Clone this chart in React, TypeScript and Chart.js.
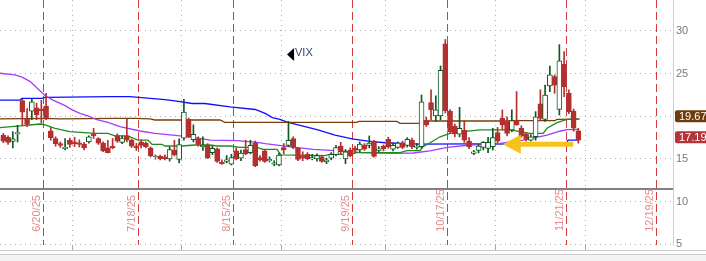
import React, { useEffect, useRef } from 'react';
import { Chart, registerables } from 'chart.js';

Chart.register(...registerables);

const FONT = "'Liberation Sans', Arial, sans-serif";

// One slot per trading day; candle i sits on slot i.
const OPEN = [
  17.8, 17.55, 17.05, 17.95, 21.85, 19.65, 20.6, 21.0, 20.85, 21.2,
  18.3, 17.4, 16.8, 16.2, 17.2, 17.0, 16.9, 16.75, 17.0, 17.9,
  17.4, 16.85, 16.3, 16.5, 17.75, 16.95, 17.7, 17.2, 16.5, 17.0,
  16.85, 16.3, 15.25, 15.3, 15.25, 15.0, 16.05, 14.95, 17.45, 19.65,
  17.25, 17.4, 16.45, 16.6, 15.75, 16.2, 14.65, 14.7, 14.4, 15.95,
  15.1, 16.1, 15.75, 16.85, 15.15, 15.95, 14.8, 14.4, 14.3, 16.35,
  16.6, 17.4, 16.25, 15.35, 15.55, 15.0, 15.0, 15.25, 14.65, 15.1,
  15.5, 16.5, 15.0, 16.05, 16.25, 16.05, 16.6, 16.6, 17.1, 16.0,
  16.5, 17.3, 16.15, 16.35, 16.85, 16.6, 17.2, 16.35, 16.45, 19.55,
  21.6, 20.05, 20.05, 28.5, 20.6, 18.85, 17.9, 18.35, 17.1, 15.65,
  16.0, 16.35, 16.25, 16.45, 18.1, 19.75, 19.35, 18.4, 19.55, 18.6,
  17.95, 17.2, 17.6, 21.45, 19.65, 23.55, 24.65, 20.8, 26.1, 22.7,
  20.6, 18.3,
];
const HIGH = [
  18.0, 17.7, 18.2, 18.95, 22.0, 20.9, 22.0, 21.55, 21.9, 22.7,
  18.7, 17.6, 17.0, 17.4, 17.45, 17.55, 17.25, 16.95, 17.7, 18.6,
  17.5, 17.0, 17.2, 17.4, 17.95, 17.7, 19.65, 17.35, 16.85, 17.25,
  17.0, 16.4, 15.5, 15.45, 15.5, 16.4, 17.2, 17.35, 22.0, 19.8,
  19.0, 17.6, 17.6, 16.8, 16.5, 16.3, 14.9, 15.4, 15.55, 16.3,
  16.05, 17.2, 17.2, 17.1, 15.4, 16.1, 15.25, 14.8, 15.7, 16.8,
  19.4, 17.6, 16.35, 15.85, 15.75, 15.55, 15.6, 15.45, 15.1, 15.75,
  16.6, 16.95, 16.1, 16.3, 16.5, 17.0, 16.8, 17.7, 17.2, 16.45,
  16.65, 17.55, 16.85, 17.0, 17.1, 17.5, 17.45, 16.8, 22.5, 19.9,
  23.1, 22.4, 25.9, 29.0, 20.8, 19.1, 21.05, 19.45, 17.5, 16.0,
  16.7, 17.05, 17.55, 18.6, 18.7, 20.75, 19.95, 20.75, 22.9, 18.9,
  18.1, 17.85, 20.55, 23.1, 23.65, 25.9, 24.85, 28.4, 27.6, 23.1,
  20.85, 18.6,
];
const LOW = [
  16.9, 16.7, 16.3, 17.0, 19.0, 18.8, 19.6, 19.6, 19.2, 19.6,
  17.2, 16.5, 16.35, 16.05, 16.35, 16.45, 16.4, 16.05, 16.85, 17.4,
  16.7, 15.85, 15.7, 16.2, 16.95, 16.8, 17.0, 16.35, 16.0, 16.3,
  16.3, 15.25, 14.95, 14.9, 14.9, 14.75, 15.35, 14.55, 17.2, 17.5,
  17.0, 16.5, 16.0, 15.05, 15.5, 14.6, 14.35, 14.55, 14.3, 14.9,
  14.8, 15.5, 15.6, 14.1, 14.75, 14.6, 14.65, 14.2, 14.2, 15.6,
  16.45, 16.2, 14.8, 14.8, 14.9, 14.9, 14.75, 14.6, 14.45, 14.9,
  15.35, 15.5, 14.45, 15.25, 15.7, 15.85, 16.0, 16.3, 15.2, 15.8,
  15.95, 16.25, 15.95, 16.25, 16.2, 16.4, 16.2, 16.15, 16.25, 18.8,
  19.6, 19.4, 19.6, 20.4, 18.0, 17.6, 17.6, 16.95, 16.2, 15.5,
  15.7, 16.05, 15.75, 16.05, 16.9, 18.4, 17.7, 18.2, 18.95, 17.55,
  17.1, 17.1, 17.2, 19.55, 19.4, 22.9, 22.7, 20.15, 22.3, 20.3,
  18.25, 16.85,
];
const CLOSE = [
  17.1, 16.95, 17.35, 18.1, 20.5, 19.05, 21.7, 20.15, 20.65, 19.75,
  17.5, 16.8, 16.6, 16.4, 16.7, 16.8, 16.7, 16.3, 17.6, 17.7,
  16.85, 15.95, 15.75, 16.3, 17.1, 17.45, 17.2, 16.5, 16.3, 16.6,
  16.45, 15.35, 15.25, 15.0, 15.05, 16.1, 15.5, 16.7, 20.5, 17.6,
  17.9, 16.7, 16.6, 15.15, 16.25, 14.7, 14.45, 14.9, 15.15, 15.0,
  15.7, 15.6, 16.6, 14.2, 14.9, 14.7, 14.95, 14.55, 15.45, 16.05,
  17.2, 16.35, 14.95, 15.1, 15.0, 15.15, 15.4, 14.7, 14.9, 15.55,
  16.35, 15.85, 15.85, 15.35, 16.0, 16.75, 16.15, 16.85, 15.3, 16.2,
  16.2, 16.4, 16.6, 16.85, 16.35, 17.3, 16.4, 16.5, 21.7, 19.0,
  20.75, 20.75, 25.4, 20.65, 18.2, 17.95, 18.6, 17.2, 16.4, 15.85,
  16.5, 16.95, 16.95, 17.5, 17.1, 19.0, 18.0, 19.5, 19.0, 17.7,
  17.3, 17.6, 19.95, 19.75, 22.5, 24.85, 23.65, 26.5, 23.45, 20.55,
  18.6, 17.19,
];

// Moving averages, read at slot positions
const BLUE_X = [-0.7, 3.5, 3.9, 8.1, 8.8, 22.4, 26.7, 30.9, 34.0, 36.1, 39.7, 42.4, 47.7, 53.0, 55.1, 56.6, 58.2, 59.9, 63.5, 66.2, 69.8, 73.4, 76.7, 80.3, 87.7, 98.2, 118.4, 118.8, 121.1];
const BLUE_Y = [21.9, 21.9, 22.1, 22.1, 22.23, 22.3, 22.3, 22.1, 21.95, 21.8, 21.5, 21.5, 21.1, 20.8, 20.35, 19.85, 19.65, 19.3, 18.8, 18.4, 17.8, 17.35, 17.1, 16.9, 16.75, 16.78, 16.72, 17.2, 17.2];

const BROWN_X = [-0.7, 8.8, 11.9, 23.5, 27.7, 30.9, 31.9, 45.6, 46.6, 74.4, 74.8, 82.8, 83.5, 88.3, 89.1, 107.2, 107.6, 116.1, 116.5, 121.1];
const BROWN_Y = [19.69, 19.77, 19.69, 19.77, 19.77, 19.69, 19.57, 19.57, 19.3, 19.3, 19.4, 19.4, 19.18, 19.18, 19.45, 19.45, 19.5, 19.5, 19.65, 19.67];

const PURPLE_X = [-0.7, 2.46, 3.93, 5.6, 6.67, 7.7, 8.8, 10.46, 13.0, 14.5, 16.14, 17.8, 19.7, 22.0, 24.55, 28.76, 31.9, 39.3, 43.5, 49.2, 53.4, 55.1, 59.3, 65.2, 69.8, 75.7, 81.4, 86.2, 89.8, 93.4, 98.2, 104.5, 109.4, 114.4, 117.1, 118.6, 121.1];
const PURPLE_Y = [25.05, 24.85, 24.6, 24.1, 23.55, 23.0, 22.4, 21.9, 21.25, 20.75, 20.35, 20.04, 19.6, 19.3, 18.8, 18.28, 18.0, 17.6, 17.22, 17.15, 16.95, 16.8, 16.5, 16.13, 15.97, 15.75, 15.65, 15.7, 15.95, 16.35, 16.64, 16.83, 17.2, 17.8, 18.25, 18.45, 18.48];

const GREEN_X = [-0.7, 3.5, 5.6, 7.7, 8.8, 10.9, 14.0, 19.3, 22.0, 23.5, 26.2, 28.3, 30.4, 31.3, 33.4, 34.0, 37.6, 40.3, 43.5, 45.0, 47.7, 49.8, 53.4, 54.6, 57.6, 58.4, 67.7, 68.7, 73.4, 74.2, 83.5, 84.9, 87.7, 88.3, 89.8, 91.9, 94.0, 96.7, 100.3, 106.6, 110.8, 113.6, 114.4, 116.5, 118.6, 121.3];
const GREEN_Y = [18.67, 18.87, 18.98, 19.1, 19.0, 18.6, 18.2, 18.0, 18.0, 17.7, 17.7, 17.22, 17.22, 16.72, 16.72, 16.52, 16.52, 16.64, 16.64, 16.52, 16.52, 16.36, 16.36, 16.13, 16.13, 15.47, 15.4, 15.55, 15.55, 15.74, 15.74, 15.97, 15.97, 16.44, 16.9, 17.6, 18.0, 18.2, 18.4, 18.4, 18.0, 18.0, 18.6, 19.26, 19.65, 19.7];

// Axes
const DATE_TICKS = [8.5, 28.5, 48.5, 73.5, 93.5, 118.5, 137.5];
const DATE_LABELS = ['6/20/25', '7/18/25', '8/15/25', '9/19/25', '10/17/25', '11/21/25', '12/19/25'];
const MONTH_TICKS = [14.5, 37.5, 58.5, 80.5, 103.5, 122.5];
const PRICE_TICKS = [5, 10, 15, 20, 25, 30];

const X_MIN = -0.695;
const X_MAX = 140.91;
const Y_MIN = 4.92;
const Y_MAX = 33.63;
const DATE_AXIS_VALUE = 11.48;

const SYMBOL_LABEL = 'VIX';
const SYMBOL_SLOT = 59.7;
const SYMBOL_VALUE = 27.25;

const ARROW_FROM_SLOT = 119.9;
const ARROW_TO_SLOT = 105.1;
const ARROW_VALUE = 16.72;

const RED = '#b3302f';
const GREEN = '#0b5a1f';
const GRAY = '#777777';

const overlay = {
  id: 'overlay',
  afterDatasetsDraw(chart: any) {
    const { ctx } = chart;
    const x = chart.scales.x;
    const y = chart.scales.y;
    ctx.save();
    // yellow arrow
    const ya = y.getPixelForValue(ARROW_VALUE);
    const xTail = x.getPixelForValue(ARROW_FROM_SLOT);
    const xTip = x.getPixelForValue(ARROW_TO_SLOT);
    const headLen = 18;
    const headHalf = 9.5;
    const shaftHalf = 2.5;
    ctx.fillStyle = '#f7c21b';
    ctx.beginPath();
    ctx.moveTo(xTip, ya);
    ctx.lineTo(xTip + headLen, ya - headHalf);
    ctx.lineTo(xTip + headLen, ya - shaftHalf);
    ctx.lineTo(xTail, ya - shaftHalf);
    ctx.lineTo(xTail, ya + shaftHalf);
    ctx.lineTo(xTip + headLen, ya + shaftHalf);
    ctx.lineTo(xTip + headLen, ya + headHalf);
    ctx.closePath();
    ctx.fill();
    // symbol label
    const sx = x.getPixelForValue(SYMBOL_SLOT);
    const sy = y.getPixelForValue(SYMBOL_VALUE);
    ctx.fillStyle = '#000000';
    ctx.beginPath();
    ctx.moveTo(sx, sy);
    ctx.lineTo(sx + 7, sy - 6.5);
    ctx.lineTo(sx + 7, sy + 6.5);
    ctx.closePath();
    ctx.fill();
    ctx.font = `11px ${FONT}`;
    ctx.textAlign = 'left';
    ctx.textBaseline = 'middle';
    ctx.fillStyle = '#34476b';
    ctx.fillText(SYMBOL_LABEL, sx + 8, sy - 1);
    ctx.restore();
  },
  afterDraw(chart: any) {
    const { ctx } = chart;
    const y = chart.scales.y;
    const tag = (value: number, bg: string) => {
      const py = y.getPixelForValue(value) - 3;
      const left = y.left + 2;
      const w = chart.width - left + 4;
      const h = 12;
      const top = py - h / 2;
      const r = 2;
      ctx.save();
      ctx.fillStyle = bg;
      ctx.beginPath();
      ctx.moveTo(left + r, top);
      ctx.lineTo(left + w, top);
      ctx.lineTo(left + w, top + h);
      ctx.lineTo(left + r, top + h);
      ctx.quadraticCurveTo(left, top + h, left, top + h - r);
      ctx.lineTo(left, top + r);
      ctx.quadraticCurveTo(left, top, left + r, top);
      ctx.closePath();
      ctx.fill();
      ctx.fillStyle = '#ffffff';
      ctx.font = `11px ${FONT}`;
      ctx.textAlign = 'left';
      ctx.textBaseline = 'middle';
      ctx.fillText(value.toFixed(2), left + 4, py + 0.5);
      ctx.restore();
    };
    tag(BROWN_Y[BROWN_Y.length - 1], '#6e3b0e');
    tag(CLOSE[CLOSE.length - 1], '#b5343a');
  },
};

export default function App() {
  const ref = useRef<HTMLCanvasElement>(null);

  useEffect(() => {
    document.body.style.margin = '0';
    const canvas = ref.current;
    if (!canvas) return;
    const idx = OPEN.map((_, i) => i);
    const colorOf = (i: number) => (CLOSE[i] > OPEN[i] ? GREEN : CLOSE[i] < OPEN[i] ? RED : GRAY);
    const fillOf = (i: number) => (CLOSE[i] > OPEN[i] ? '#ffffff' : CLOSE[i] < OPEN[i] ? RED : GRAY);
    const bodies = idx.map((i) => ({ x: i, y: [Math.min(OPEN[i], CLOSE[i]), Math.max(OPEN[i], CLOSE[i])] }));
    const wicks = idx.map((i) => ({ x: i, y: [LOW[i], HIGH[i]] }));
    const pts = (xs: number[], ys: number[]) => xs.map((v, k) => ({ x: v, y: ys[k] }));
    const lineDs = (xs: number[], ys: number[], color: string, order: number) => ({
      type: 'line' as const,
      data: pts(xs, ys),
      borderColor: color,
      borderWidth: 1.3,
      pointRadius: 0,
      tension: 0,
      fill: false,
      order,
      xAxisID: 'x',
      yAxisID: 'y',
    });

    const chart = new Chart(canvas, {
      type: 'bar',
      data: {
        datasets: [
          {
            type: 'bar',
            data: bodies as any,
            backgroundColor: idx.map(fillOf),
            borderColor: idx.map(colorOf),
            borderWidth: 1,
            borderSkipped: false,
            barThickness: 5,
            minBarLength: 1,
            grouped: false,
            order: 0,
            xAxisID: 'x',
            yAxisID: 'y',
          },
          {
            type: 'bar',
            data: wicks as any,
            backgroundColor: idx.map(colorOf),
            borderWidth: 0,
            barThickness: 1,
            grouped: false,
            order: 1,
            xAxisID: 'x',
            yAxisID: 'y',
          },
          lineDs(GREEN_X, GREEN_Y, '#1f8b1f', 2),
          lineDs(PURPLE_X, PURPLE_Y, '#a43dff', 3),
          lineDs(BROWN_X, BROWN_Y, '#7a3e0a', 4),
          lineDs(BLUE_X, BLUE_Y, '#1010ff', 5),
        ] as any,
      },
      options: {
        responsive: false,
        animation: false,
        devicePixelRatio: 1,
        events: [],
        layout: { padding: 0 },
        plugins: { legend: { display: false }, tooltip: { enabled: false } },
        scales: {
          x: {
            type: 'linear',
            min: X_MIN,
            max: X_MAX,
            position: { y: DATE_AXIS_VALUE } as any,
            offset: false,
            grid: { offset: false, color: '#d23c3c', lineWidth: 1, drawTicks: false, borderDash: [8, 4] } as any,
            border: { display: true, color: '#808080', width: 2, dash: [8, 4] },
            ticks: {
              autoSkip: false,
              minRotation: 90,
              maxRotation: 90,
              padding: 0,
              labelOffset: -7,
              color: '#e58a8a',
              font: { family: FONT, size: 11 },
              callback: (_v: any, i: number) => {
                const l = DATE_LABELS[i] || '';
                return l + '  '.repeat(Math.max(0, 8 - l.length));
              },
            },
            afterBuildTicks: (s: any) => {
              s.ticks = DATE_TICKS.map((v) => ({ value: v }));
            },
            afterFit: (s: any) => {
              s.paddingLeft = 0;
              s.paddingRight = 0;
            },
          },
          x2: {
            type: 'linear',
            axis: 'x',
            min: X_MIN,
            max: X_MAX,
            position: 'bottom',
            offset: false,
            grid: {
              offset: false,
              color: '#b0b0b0',
              lineWidth: 1,
              drawTicks: true,
              tickLength: 5,
              tickColor: '#a8a8a8',
              tickWidth: 1,
              tickBorderDash: [],
              borderDash: [1, 4],
            } as any,
            border: { display: false, dash: [1, 4] },
            ticks: { display: false },
            afterBuildTicks: (s: any) => {
              s.ticks = MONTH_TICKS.map((v) => ({ value: v }));
            },
            afterFit: (s: any) => {
              s.height = 5;
              s.paddingLeft = 0;
              s.paddingRight = 0;
            },
          },
          y: {
            type: 'linear',
            position: 'right',
            min: Y_MIN,
            max: Y_MAX,
            grid: { color: '#b0b0b0', lineWidth: 1, drawTicks: false, borderDash: [1, 4] } as any,
            border: { display: true, color: '#cfcfcf', width: 1, dash: [1, 4] },
            ticks: {
              padding: 3,
              color: '#7a7a7a',
              font: { family: FONT, size: 11 },
              callback: (v: any) => String(v),
            },
            afterBuildTicks: (s: any) => {
              s.ticks = PRICE_TICKS.map((v) => ({ value: v }));
            },
            afterFit: (s: any) => {
              s.width = 33;
              s.paddingTop = 0;
              s.paddingBottom = 0;
            },
          },
        } as any,
      },
      plugins: [overlay],
    });
    return () => chart.destroy();
  }, []);

  return (
    <div style={{ width: 706, height: 261, overflow: 'hidden', background: '#ffffff' }}>
      <canvas ref={ref} width={706} height={250} style={{ display: 'block', width: 706, height: 250 }} />
      <div style={{ height: 1, background: '#c8c8c8' }} />
      <div style={{ height: 3, background: '#ffffff' }} />
      <div style={{ height: 1, background: '#d0d0d0' }} />
      <div style={{ height: 6, background: '#f4f4f4' }} />
    </div>
  );
}
